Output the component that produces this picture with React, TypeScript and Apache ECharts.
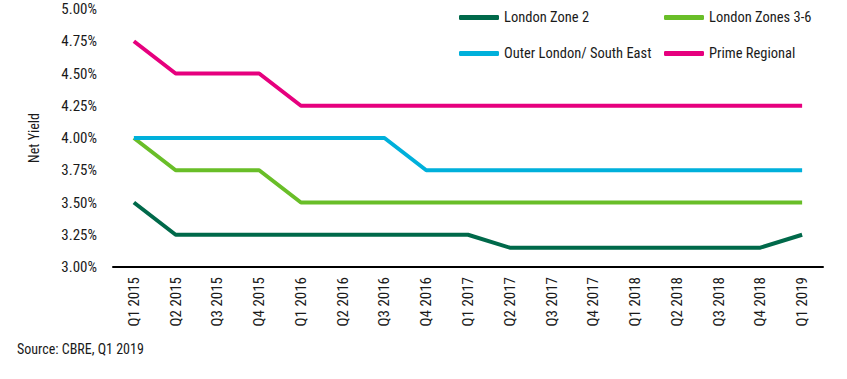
import React, { useEffect, useRef } from "react";
import * as echarts from "echarts";

const categories = [
  "Q1 2015", "Q2 2015", "Q3 2015", "Q4 2015",
  "Q1 2016", "Q2 2016", "Q3 2016", "Q4 2016",
  "Q1 2017", "Q2 2017", "Q3 2017", "Q4 2017",
  "Q1 2018", "Q2 2018", "Q3 2018", "Q4 2018",
  "Q1 2019",
];

const londonZone2 = [3.5, 3.25, 3.25, 3.25, 3.25, 3.25, 3.25, 3.25, 3.25, 3.15, 3.15, 3.15, 3.15, 3.15, 3.15, 3.15, 3.25];
const londonZones36 = [4.0, 3.75, 3.75, 3.75, 3.5, 3.5, 3.5, 3.5, 3.5, 3.5, 3.5, 3.5, 3.5, 3.5, 3.5, 3.5, 3.5];
const outerLondon = [4.0, 4.0, 4.0, 4.0, 4.0, 4.0, 4.0, 3.75, 3.75, 3.75, 3.75, 3.75, 3.75, 3.75, 3.75, 3.75, 3.75];
const primeRegional = [4.75, 4.5, 4.5, 4.5, 4.25, 4.25, 4.25, 4.25, 4.25, 4.25, 4.25, 4.25, 4.25, 4.25, 4.25, 4.25, 4.25];

const yTicks = { min: 3, max: 5, interval: 0.25 };

const FONT = "'Roboto Condensed', 'DejaVu Sans Condensed', sans-serif";
const TXT = "#1a1a1a";

export default function App() {
  const ref = useRef<HTMLDivElement>(null);
  useEffect(() => {
    if (!ref.current) return;
    const chart = echarts.init(ref.current, undefined, { renderer: "svg" });
    const seriesDefs = [
      { name: "London Zone 2", data: londonZone2, color: "#00694a" },
      { name: "London Zones 3-6", data: londonZones36, color: "#69be28" },
      { name: "Outer London/ South East", data: outerLondon, color: "#00b0db" },
      { name: "Prime Regional", data: primeRegional, color: "#e6007e" },
    ];
    const legendPos = [
      { left: 454, top: 5 },
      { left: 659, top: 5 },
      { left: 454, top: 41 },
      { left: 659, top: 41 },
    ];
    chart.setOption({
      animation: false,
      textStyle: { fontFamily: FONT },
      legend: seriesDefs.map((s, i) => ({
        data: [s.name],
        left: legendPos[i].left,
        top: legendPos[i].top,
        itemWidth: 40,
        itemHeight: 5,
        icon: "roundRect",
        textStyle: { fontFamily: FONT, fontSize: 14.5, color: TXT },
      })),
      grid: { left: 113, right: 24, top: 9, bottom: 112, containLabel: false },
      xAxis: {
        type: "category",
        data: categories,
        boundaryGap: true,
        axisLine: { lineStyle: { color: "#000", width: 2 } },
        axisTick: { show: false },
        axisLabel: { rotate: 90, margin: 10, fontSize: 15, color: TXT, fontFamily: FONT, interval: 0 },
      },
      yAxis: {
        type: "value",
        min: yTicks.min,
        max: yTicks.max,
        interval: yTicks.interval,
        name: "Net Yield",
        nameLocation: "middle",
        nameGap: 72,
        nameTextStyle: { fontSize: 14, color: TXT, fontFamily: FONT },
        axisLine: { show: false },
        axisTick: { show: false },
        splitLine: { show: false },
        axisLabel: {
          margin: 16,
          fontSize: 15,
          color: TXT,
          fontFamily: FONT,
          formatter: (v: number) => v.toFixed(2) + "%",
        },
      },
      graphic: [
        {
          type: "text",
          left: 17,
          top: 342,
          style: { text: "Source: CBRE, Q1 2019", fontSize: 14, fill: TXT, fontFamily: FONT },
        },
      ],
      series: seriesDefs.map((s) => ({
        name: s.name,
        type: "line",
        data: s.data,
        symbol: "none",
        color: s.color,
        lineStyle: { width: 4, color: s.color },
      })),
    });
    return () => chart.dispose();
  }, []);
  return <div ref={ref} style={{ position: "absolute", left: 0, top: 0, width: 847, height: 379 }} />;
}
